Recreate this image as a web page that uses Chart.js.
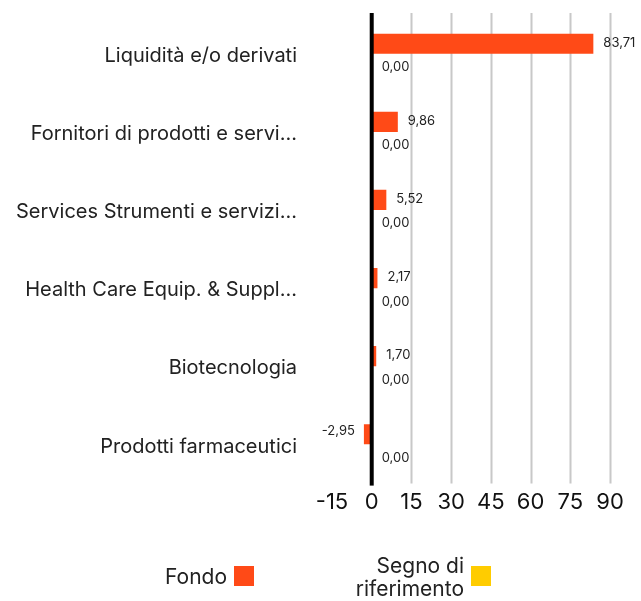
<!DOCTYPE html>
<html>
<head>
<meta charset="utf-8">
<script src="https://cdn.jsdelivr.net/npm/chart.js@4"></script>
<style>
  html, body { margin: 0; padding: 0; background: #fff; }
  canvas { display: block; }
</style>
</head>
<body>
<canvas id="myCanvas" width="641" height="601"></canvas>
<script>
var categories = ['Liquidità e/o derivati', 'Fornitori di prodotti e servi...', 'Services Strumenti e servizi...', 'Health Care Equip. & Suppl...', 'Biotecnologia', 'Prodotti farmaceutici'];
var fondo = [83.71, 9.86, 5.52, 2.17, 1.70, -2.95];
var riferimento = [0, 0, 0, 0, 0, 0];
var xTicks = [-15, 0, 15, 30, 45, 60, 75, 90];

var FONT = "Inter, 'Noto Sans', sans-serif";

// vertical grid + zero line
const gridPlugin = {
  id: 'grid',
  beforeDatasetsDraw(chart) {
    var ctx = chart.ctx, x = chart.scales.x, a = chart.chartArea;
    ctx.save();
    xTicks.forEach(function (t) {
      if (t <= 0) return;
      var px = Math.round(x.getPixelForValue(t)) + 0.5;
      ctx.strokeStyle = '#c8c8c8';
      ctx.lineWidth = 2;
      ctx.beginPath();
      ctx.moveTo(px, a.top - 4);
      ctx.lineTo(px, a.bottom - 2);
      ctx.stroke();
    });
    ctx.restore();
  },
  afterDatasetsDraw(chart) {
    var ctx = chart.ctx, x = chart.scales.x, a = chart.chartArea;
    ctx.save();
    var px = x.getPixelForValue(0);
    ctx.fillStyle = '#000';
    ctx.fillRect(px - 2, a.top - 4, 4, a.bottom - a.top + 4);
    ctx.restore();
  }
};

// value labels
const labelPlugin = {
  id: 'vals',
  afterDatasetsDraw(chart) {
    var ctx = chart.ctx;
    ctx.save();
    ctx.font = '13px ' + FONT;
    ctx.fillStyle = '#222';
    ctx.textBaseline = 'middle';
    chart.data.datasets.forEach(function (ds, i) {
      chart.getDatasetMeta(i).data.forEach(function (bar, j) {
        var v = ds.data[j];
        var txt = v.toFixed(2).replace('.', ',');
        if (v < 0) {
          ctx.textAlign = 'right';
          ctx.fillText(txt, bar.x - 9, bar.y - 3);
        } else {
          ctx.textAlign = 'left';
          ctx.fillText(txt, bar.x + 10, bar.y - 1);
        }
      });
    });
    ctx.restore();
  }
};

// legend with box after the text
const legendPlugin = {
  id: 'legendRight',
  afterDraw(chart) {
    var ctx = chart.ctx;
    var ds = chart.data.datasets;
    ctx.save();
    ctx.font = '21px ' + FONT;
    ctx.fillStyle = '#222';
    ctx.textAlign = 'right';
    ctx.textBaseline = 'middle';
    ctx.fillText(ds[0].label, 227, 578);
    ctx.fillStyle = ds[0].backgroundColor;
    ctx.fillRect(234, 566, 20, 20);
    ctx.fillStyle = '#222';
    ctx.fillText('Segno di', 464, 567);
    ctx.fillText('riferimento', 464, 590);
    ctx.fillStyle = ds[1].backgroundColor;
    ctx.fillRect(471, 566, 20, 20);
    ctx.restore();
  }
};

var c = document.getElementById('myCanvas');
var ctx = c.getContext('2d');

const barChart = new Chart(ctx, {
  type: 'bar',
  data: {
    labels: categories,
    datasets: [{
      label: 'Fondo',
      data: fondo,
      backgroundColor: '#ff4a17',
      categoryPercentage: 0.63,
      barPercentage: 0.82
    }, {
      label: 'Segno di riferimento',
      data: riferimento,
      backgroundColor: '#ffcc00',
      categoryPercentage: 0.63,
      barPercentage: 0.82
    }]
  },
  options: {
    indexAxis: 'y',
    responsive: false,
    animation: false,
    layout: { padding: { top: 17, right: 31, bottom: 81, left: 0 } },
    scales: {
      x: {
        min: -15,
        max: 90,
        afterBuildTicks: function (s) { s.ticks = xTicks.map(function (v) { return { value: v }; }); },
        grid: { display: false, drawTicks: false },
        border: { display: false },
        ticks: {
          color: '#111',
          font: { family: FONT, size: 22 },
          padding: 4,
          maxRotation: 0,
          autoSkip: false
        }
      },
      y: {
        grid: { display: false, drawTicks: false },
        border: { display: false },
        afterFit: function (s) { s.width = 332; s.paddingTop = 0; s.paddingBottom = 0; },
        ticks: {
          color: '#222',
          font: { family: FONT, size: 20 },
          padding: 35
        }
      }
    },
    plugins: {
      legend: { display: false },
      tooltip: { enabled: false }
    }
  },
  plugins: [gridPlugin, labelPlugin, legendPlugin]
});
</script>
</body>
</html>
